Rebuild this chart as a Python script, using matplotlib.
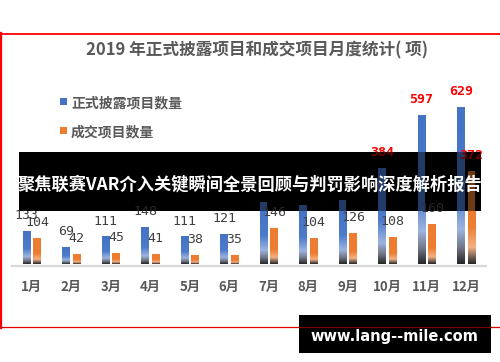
import matplotlib
matplotlib.use("Agg")
import matplotlib.pyplot as plt
import numpy as np
from matplotlib.colors import LinearSegmentedColormap
from matplotlib.patches import Rectangle
from matplotlib.lines import Line2D

plt.rcParams['font.family'] = ['Noto Sans CJK SC', 'DejaVu Sans']

months = ['1月', '2月', '3月', '4月', '5月', '6月', '7月', '8月', '9月', '10月', '11月', '12月']
disclosed = [133, 69, 111, 148, 111, 121, 249, 236, 256, 384, 597, 629]
traded = [104, 42, 45, 41, 38, 35, 146, 104, 126, 108, 160, 372]
disclosed_labels = ['133', '69', '111', '148', '111', '121', '', '', '', '384', '597', '629']
traded_labels = ['104', '42', '45', '41', '38', '35', '146', '104', '126', '108', '160', '372']
red_disclosed = [False] * 9 + [True, True, True]
red_traded = [False] * 11 + [True]

title = '2019 年正式披露项目和成交项目月度统计( 项)'
legend_names = ['正式披露项目数量', '成交项目数量']
banner_text = '聚焦联赛VAR介入关键瞬间全景回顾与判罚影响深度解析报告'
watermark = 'www.lang--mile.com'

W, H = 500, 362
fig = plt.figure(figsize=(5, 3.62), dpi=100)
fig.patch.set_facecolor('white')

ax = fig.add_axes([12 / W, 96 / H, 474 / W, 196 / H])
ax.set_xlim(-0.5, 11.5)
ax.set_ylim(-8, 778)
for s in ['top', 'right', 'left']:
    ax.spines[s].set_visible(False)
ax.spines['bottom'].set_color('#d9d9d9')
ax.spines['bottom'].set_linewidth(1.6)
ax.set_yticks([])
ax.set_xticks(range(len(months)))
ax.set_xticklabels(months, fontsize=9.5, fontweight='bold', color='#595959')
ax.tick_params(axis='x', length=0, pad=10)

blue_cmap = LinearSegmentedColormap.from_list('b', [
    (0.0, '#4472C4'), (0.55, '#4d7bcb'), (0.78, '#9db4e0'), (0.9, '#6f7584'), (1.0, '#262626')])
orange_cmap = LinearSegmentedColormap.from_list('o', [
    (0.0, '#ED7D31'), (0.6, '#ED7D31'), (0.82, '#F4B183'), (0.92, '#7d6458'), (1.0, '#262626')])

x = np.arange(len(months))
off = 0.135
bw = 0.19
grad = np.linspace(0, 1, 256).reshape(-1, 1)

def grad_bars(xpos, vals, cmap):
    bars = ax.bar(xpos, vals, width=bw, color='none', edgecolor='none', zorder=2)
    for b in bars:
        x0, y0 = b.get_x(), b.get_y()
        w, h = b.get_width(), b.get_height()
        im = ax.imshow(grad, cmap=cmap, extent=(x0, x0 + w, y0, y0 + h),
                       aspect='auto', origin='upper', zorder=2, interpolation='bilinear')
        im.set_clip_path(b)
    return bars

grad_bars(x - off, disclosed, blue_cmap)
grad_bars(x + off, traded, orange_cmap)
ax.set_xlim(-0.5, 11.5)
ax.set_ylim(-8, 778)

def labels(xpos, vals, texts, reds, z=3, dim=False, clip=None):
    for xi, v, t, r in zip(xpos, vals, texts, reds):
        if not t:
            continue
        if dim:
            col = '#6e0000' if r else '#262626'
        else:
            col = 'red' if r else '#404040'
        a = ax.annotate(t, (xi, v), xytext=(0, 11), textcoords='offset points',
                        ha='center', va='center', fontsize=9.5,
                        family='DejaVu Sans Mono',
                        fontweight='bold' if r else 'normal',
                        color=col, zorder=z, annotation_clip=False)
        if clip is not None:
            a.set_clip_path(clip)

labels(x - off, disclosed, disclosed_labels, red_disclosed)
labels(x + off, traded, traded_labels, red_traded)

# semi-transparent banner effect
banner = Rectangle((19 / W, 1 - 211 / H), 462 / W, 59 / H, transform=fig.transFigure,
                   facecolor='black', edgecolor='none', zorder=5, clip_on=False)
ax.add_patch(banner)
dim_b = ax.bar(x - off, disclosed, width=bw, color='#213a66', zorder=6)
dim_o = ax.bar(x + off, traded, width=bw, color='#6e3a16', zorder=6)
for b in list(dim_b) + list(dim_o):
    b.set_clip_path(banner)
labels(x - off, disclosed, disclosed_labels, red_disclosed, z=6, dim=True, clip=banner)
labels(x + off, traded, traded_labels, red_traded, z=6, dim=True, clip=banner)
ax.text(0.499, 1 - 184.5 / H, banner_text, transform=fig.transFigure, ha='center', va='center',
        fontsize=12.4, fontweight='bold', color='white', zorder=7)

# title
fig.text(257.5 / W, 1 - 50 / H, title, ha='center', va='center', fontsize=12,
         fontweight='bold', color='#595959')

# legend
for i, (name, col) in enumerate(zip(legend_names, ['#4472C4', '#ED7D31'])):
    yc = [101, 130][i]
    fig.patches.append(Rectangle((60 / W, 1 - (yc + 3.5) / H), 7 / W, 7 / H,
                                 transform=fig.transFigure, facecolor=col, edgecolor='none'))
    fig.text(71 / W, 1 - (yc + 2) / H, name, ha='left', va='center', fontsize=10,
             fontweight='bold', color='#595959')

# red frame
fig.add_artist(Line2D([0, 1], [1 - 33.8 / H] * 2, color='red', lw=1.3, transform=fig.transFigure))
fig.add_artist(Line2D([1 / W] * 2, [1 - 33 / H, 1 - 327.5 / H], color='red', lw=1.6,
                      transform=fig.transFigure))
fig.add_artist(Line2D([0, 1], [1 - 327.3 / H] * 2, color='#e00000', lw=0.9, transform=fig.transFigure))

# watermark box
fig.patches.append(Rectangle((299 / W, 1 - 353 / H), 192 / W, 38 / H, transform=fig.transFigure,
                             facecolor='black', edgecolor='none', zorder=10))
fig.add_artist(Line2D([299 / W, 491 / W], [1 - 327.3 / H] * 2, color='#7a0000', lw=0.9,
                      transform=fig.transFigure, zorder=11))
fig.text(394 / W, 1 - 336 / H, watermark, ha='center', va='center', fontsize=10.5,
         fontweight='bold', color='white', family='DejaVu Sans', zorder=12)

fig.savefig('out.png', dpi=100)
